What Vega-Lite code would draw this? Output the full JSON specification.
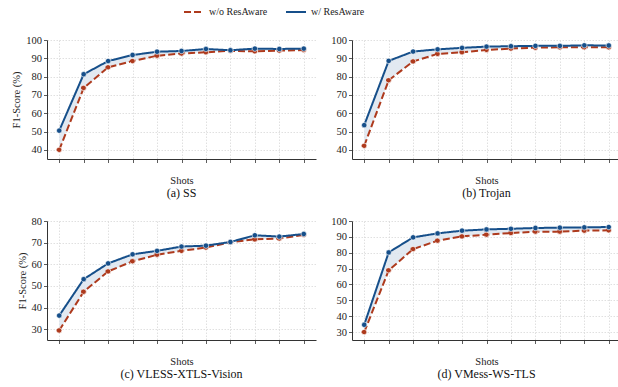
{
  "$schema": "https://vega.github.io/schema/vega-lite/v6.json",
  "padding": {"left": 11, "top": 1, "right": 2, "bottom": 2},
  "config": {
    "font": "Liberation Serif",
    "view": {"stroke": null},
    "axis": {
      "labelFont": "Liberation Serif", "titleFont": "Liberation Serif",
      "labelFontSize": 10.5, "titleFontSize": 10.5, "titleFontWeight": "normal",
      "labelColor": "#222", "titleColor": "#222",
      "domainColor": "#333", "domainWidth": 1,
      "tickColor": "#333", "tickSize": 3.5, "tickWidth": 0.8,
      "gridColor": "#d8d8d8", "gridDash": [1.5, 1.5], "gridWidth": 0.8,
      "labelPadding": 2, "labelOverlap": false, "labelFlush": false
    },
    "legend": {"labelFont": "Liberation Serif", "labelFontSize": 10, "labelColor": "#222"}
  },
  "data": {"values": [
    {"panel": "a", "shot": 1, "method": "w/o ResAware", "f1": 40.0},
    {"panel": "a", "shot": 2, "method": "w/o ResAware", "f1": 73.8},
    {"panel": "a", "shot": 3, "method": "w/o ResAware", "f1": 85.1},
    {"panel": "a", "shot": 4, "method": "w/o ResAware", "f1": 88.5},
    {"panel": "a", "shot": 5, "method": "w/o ResAware", "f1": 91.4},
    {"panel": "a", "shot": 6, "method": "w/o ResAware", "f1": 92.6},
    {"panel": "a", "shot": 7, "method": "w/o ResAware", "f1": 93.3},
    {"panel": "a", "shot": 8, "method": "w/o ResAware", "f1": 94.1},
    {"panel": "a", "shot": 9, "method": "w/o ResAware", "f1": 93.8},
    {"panel": "a", "shot": 10, "method": "w/o ResAware", "f1": 94.2},
    {"panel": "a", "shot": 11, "method": "w/o ResAware", "f1": 94.5},
    {"panel": "a", "shot": 1, "method": "w/ ResAware", "f1": 50.5},
    {"panel": "a", "shot": 2, "method": "w/ ResAware", "f1": 81.3},
    {"panel": "a", "shot": 3, "method": "w/ ResAware", "f1": 88.5},
    {"panel": "a", "shot": 4, "method": "w/ ResAware", "f1": 91.8},
    {"panel": "a", "shot": 5, "method": "w/ ResAware", "f1": 93.6},
    {"panel": "a", "shot": 6, "method": "w/ ResAware", "f1": 94.0},
    {"panel": "a", "shot": 7, "method": "w/ ResAware", "f1": 95.1},
    {"panel": "a", "shot": 8, "method": "w/ ResAware", "f1": 94.4},
    {"panel": "a", "shot": 9, "method": "w/ ResAware", "f1": 95.3},
    {"panel": "a", "shot": 10, "method": "w/ ResAware", "f1": 95.1},
    {"panel": "a", "shot": 11, "method": "w/ ResAware", "f1": 95.3},
    {"panel": "b", "shot": 1, "method": "w/o ResAware", "f1": 42.2},
    {"panel": "b", "shot": 2, "method": "w/o ResAware", "f1": 78.0},
    {"panel": "b", "shot": 3, "method": "w/o ResAware", "f1": 88.3},
    {"panel": "b", "shot": 4, "method": "w/o ResAware", "f1": 92.4},
    {"panel": "b", "shot": 5, "method": "w/o ResAware", "f1": 93.3},
    {"panel": "b", "shot": 6, "method": "w/o ResAware", "f1": 94.6},
    {"panel": "b", "shot": 7, "method": "w/o ResAware", "f1": 95.3},
    {"panel": "b", "shot": 8, "method": "w/o ResAware", "f1": 95.8},
    {"panel": "b", "shot": 9, "method": "w/o ResAware", "f1": 96.0},
    {"panel": "b", "shot": 10, "method": "w/o ResAware", "f1": 96.0},
    {"panel": "b", "shot": 11, "method": "w/o ResAware", "f1": 96.0},
    {"panel": "b", "shot": 1, "method": "w/ ResAware", "f1": 53.5},
    {"panel": "b", "shot": 2, "method": "w/ ResAware", "f1": 88.6},
    {"panel": "b", "shot": 3, "method": "w/ ResAware", "f1": 93.7},
    {"panel": "b", "shot": 4, "method": "w/ ResAware", "f1": 94.9},
    {"panel": "b", "shot": 5, "method": "w/ ResAware", "f1": 95.7},
    {"panel": "b", "shot": 6, "method": "w/ ResAware", "f1": 96.4},
    {"panel": "b", "shot": 7, "method": "w/ ResAware", "f1": 96.6},
    {"panel": "b", "shot": 8, "method": "w/ ResAware", "f1": 96.8},
    {"panel": "b", "shot": 9, "method": "w/ ResAware", "f1": 96.8},
    {"panel": "b", "shot": 10, "method": "w/ ResAware", "f1": 97.1},
    {"panel": "b", "shot": 11, "method": "w/ ResAware", "f1": 97.0},
    {"panel": "c", "shot": 1, "method": "w/o ResAware", "f1": 29.4},
    {"panel": "c", "shot": 2, "method": "w/o ResAware", "f1": 47.3},
    {"panel": "c", "shot": 3, "method": "w/o ResAware", "f1": 56.7},
    {"panel": "c", "shot": 4, "method": "w/o ResAware", "f1": 61.4},
    {"panel": "c", "shot": 5, "method": "w/o ResAware", "f1": 64.4},
    {"panel": "c", "shot": 6, "method": "w/o ResAware", "f1": 66.2},
    {"panel": "c", "shot": 7, "method": "w/o ResAware", "f1": 67.7},
    {"panel": "c", "shot": 8, "method": "w/o ResAware", "f1": 70.2},
    {"panel": "c", "shot": 9, "method": "w/o ResAware", "f1": 71.5},
    {"panel": "c", "shot": 10, "method": "w/o ResAware", "f1": 71.9},
    {"panel": "c", "shot": 11, "method": "w/o ResAware", "f1": 73.6},
    {"panel": "c", "shot": 1, "method": "w/ ResAware", "f1": 36.3},
    {"panel": "c", "shot": 2, "method": "w/ ResAware", "f1": 53.1},
    {"panel": "c", "shot": 3, "method": "w/ ResAware", "f1": 60.4},
    {"panel": "c", "shot": 4, "method": "w/ ResAware", "f1": 64.6},
    {"panel": "c", "shot": 5, "method": "w/ ResAware", "f1": 66.2},
    {"panel": "c", "shot": 6, "method": "w/ ResAware", "f1": 68.2},
    {"panel": "c", "shot": 7, "method": "w/ ResAware", "f1": 68.6},
    {"panel": "c", "shot": 8, "method": "w/ ResAware", "f1": 70.3},
    {"panel": "c", "shot": 9, "method": "w/ ResAware", "f1": 73.4},
    {"panel": "c", "shot": 10, "method": "w/ ResAware", "f1": 72.8},
    {"panel": "c", "shot": 11, "method": "w/ ResAware", "f1": 74.0},
    {"panel": "d", "shot": 1, "method": "w/o ResAware", "f1": 30.0},
    {"panel": "d", "shot": 2, "method": "w/o ResAware", "f1": 68.9},
    {"panel": "d", "shot": 3, "method": "w/o ResAware", "f1": 82.3},
    {"panel": "d", "shot": 4, "method": "w/o ResAware", "f1": 87.6},
    {"panel": "d", "shot": 5, "method": "w/o ResAware", "f1": 90.3},
    {"panel": "d", "shot": 6, "method": "w/o ResAware", "f1": 91.4},
    {"panel": "d", "shot": 7, "method": "w/o ResAware", "f1": 92.4},
    {"panel": "d", "shot": 8, "method": "w/o ResAware", "f1": 93.3},
    {"panel": "d", "shot": 9, "method": "w/o ResAware", "f1": 93.3},
    {"panel": "d", "shot": 10, "method": "w/o ResAware", "f1": 93.9},
    {"panel": "d", "shot": 11, "method": "w/o ResAware", "f1": 94.1},
    {"panel": "d", "shot": 1, "method": "w/ ResAware", "f1": 34.6},
    {"panel": "d", "shot": 2, "method": "w/ ResAware", "f1": 80.2},
    {"panel": "d", "shot": 3, "method": "w/ ResAware", "f1": 89.7},
    {"panel": "d", "shot": 4, "method": "w/ ResAware", "f1": 92.2},
    {"panel": "d", "shot": 5, "method": "w/ ResAware", "f1": 93.9},
    {"panel": "d", "shot": 6, "method": "w/ ResAware", "f1": 94.7},
    {"panel": "d", "shot": 7, "method": "w/ ResAware", "f1": 95.1},
    {"panel": "d", "shot": 8, "method": "w/ ResAware", "f1": 95.6},
    {"panel": "d", "shot": 9, "method": "w/ ResAware", "f1": 95.8},
    {"panel": "d", "shot": 10, "method": "w/ ResAware", "f1": 96.0},
    {"panel": "d", "shot": 11, "method": "w/ ResAware", "f1": 96.2}
  ]},
  "columns": 2,
  "spacing": {"row": 17, "column": 14},
  "resolve": {"scale": {"x": "independent", "y": "independent", "color": "shared", "strokeDash": "shared"}},
  "concat": [
    {
      "width": 269, "height": 119,
      "title": {"text": "(a) SS", "orient": "bottom", "fontSize": 12, "fontWeight": "normal", "font": "Liberation Serif", "color": "#111", "offset": 1.5},
      "transform": [{"filter": "datum.panel === 'a'"}],
      "encoding": {
        "x": {"field": "shot", "type": "quantitative", "scale": {"domain": [0.5, 11.5], "nice": false, "zero": false},
              "axis": {"title": "Shots", "labels": false, "values": [1,2,3,4,5,6,7,8,9,10,11], "titlePadding": 13}}
      },
      "layer": [
        {"transform": [{"pivot": "method", "value": "f1", "groupby": ["shot"]}],
         "mark": {"type": "area", "color": "#dde5ef", "opacity": 0.85},
         "encoding": {"y": {"field": "w/o ResAware", "type": "quantitative", "scale": {"domain": [35, 100], "nice": false, "zero": false},
                 "axis": {"title": "F1-Score (%)", "values": [40,50,60,70,80,90,100], "labelOverlap": false}}, "y2": {"field": "w/ ResAware"}}},
        {"mark": {"type": "line", "strokeWidth": 2, "point": {"filled": true, "size": 28, "stroke": "white", "strokeWidth": 0.7}},
         "encoding": {
           "y": {"field": "f1", "type": "quantitative", "scale": {"domain": [35, 100], "nice": false, "zero": false},
                 "axis": {"title": "F1-Score (%)", "values": [40,50,60,70,80,90,100], "labelOverlap": false}},
           "color": {"field": "method", "type": "nominal", "scale": {"domain": ["w/o ResAware", "w/ ResAware"], "range": ["#ae3a1d", "#164f8a"]},
                     "legend": {"title": null, "orient": "none", "legendX": 136, "legendY": -39, "direction": "horizontal", "symbolType": "stroke", "symbolSize": 400, "symbolStrokeWidth": 2, "columnPadding": 14}},
           "strokeDash": {"field": "method", "type": "nominal", "scale": {"domain": ["w/o ResAware", "w/ ResAware"], "range": [[7, 3], [1, 0]]}, "legend": null}
         }}
      ]
    },
    {
      "width": 269, "height": 119,
      "title": {"text": "(b) Trojan", "orient": "bottom", "fontSize": 12, "fontWeight": "normal", "font": "Liberation Serif", "color": "#111", "offset": 1.5},
      "transform": [{"filter": "datum.panel === 'b'"}],
      "encoding": {
        "x": {"field": "shot", "type": "quantitative", "scale": {"domain": [0.5, 11.5], "nice": false, "zero": false},
              "axis": {"title": "Shots", "labels": false, "values": [1,2,3,4,5,6,7,8,9,10,11], "titlePadding": 13}}
      },
      "layer": [
        {"transform": [{"pivot": "method", "value": "f1", "groupby": ["shot"]}],
         "mark": {"type": "area", "color": "#dde5ef", "opacity": 0.85},
         "encoding": {"y": {"field": "w/o ResAware", "type": "quantitative", "scale": {"domain": [35, 100], "nice": false, "zero": false},
                 "axis": {"title": null, "values": [40,50,60,70,80,90,100], "labelOverlap": false}}, "y2": {"field": "w/ ResAware"}}},
        {"mark": {"type": "line", "strokeWidth": 2, "point": {"filled": true, "size": 28, "stroke": "white", "strokeWidth": 0.7}},
         "encoding": {
           "y": {"field": "f1", "type": "quantitative", "scale": {"domain": [35, 100], "nice": false, "zero": false},
                 "axis": {"title": null, "values": [40,50,60,70,80,90,100], "labelOverlap": false}},
           "color": {"field": "method", "type": "nominal", "scale": {"domain": ["w/o ResAware", "w/ ResAware"], "range": ["#ae3a1d", "#164f8a"]}},
           "strokeDash": {"field": "method", "type": "nominal", "scale": {"domain": ["w/o ResAware", "w/ ResAware"], "range": [[7, 3], [1, 0]]}, "legend": null}
         }}
      ]
    },
    {
      "width": 269, "height": 119,
      "title": {"text": "(c) VLESS-XTLS-Vision", "orient": "bottom", "fontSize": 12, "fontWeight": "normal", "font": "Liberation Serif", "color": "#111", "offset": 1.5},
      "transform": [{"filter": "datum.panel === 'c'"}],
      "encoding": {
        "x": {"field": "shot", "type": "quantitative", "scale": {"domain": [0.5, 11.5], "nice": false, "zero": false},
              "axis": {"title": "Shots", "labels": false, "values": [1,2,3,4,5,6,7,8,9,10,11], "titlePadding": 13}}
      },
      "layer": [
        {"transform": [{"pivot": "method", "value": "f1", "groupby": ["shot"]}],
         "mark": {"type": "area", "color": "#dde5ef", "opacity": 0.85},
         "encoding": {"y": {"field": "w/o ResAware", "type": "quantitative", "scale": {"domain": [25, 80], "nice": false, "zero": false},
                 "axis": {"title": "F1-Score (%)", "values": [30,40,50,60,70,80], "labelOverlap": false}}, "y2": {"field": "w/ ResAware"}}},
        {"mark": {"type": "line", "strokeWidth": 2, "point": {"filled": true, "size": 28, "stroke": "white", "strokeWidth": 0.7}},
         "encoding": {
           "y": {"field": "f1", "type": "quantitative", "scale": {"domain": [25, 80], "nice": false, "zero": false},
                 "axis": {"title": "F1-Score (%)", "values": [30,40,50,60,70,80], "labelOverlap": false}},
           "color": {"field": "method", "type": "nominal", "scale": {"domain": ["w/o ResAware", "w/ ResAware"], "range": ["#ae3a1d", "#164f8a"]}},
           "strokeDash": {"field": "method", "type": "nominal", "scale": {"domain": ["w/o ResAware", "w/ ResAware"], "range": [[7, 3], [1, 0]]}, "legend": null}
         }}
      ]
    },
    {
      "width": 269, "height": 119,
      "title": {"text": "(d) VMess-WS-TLS", "orient": "bottom", "fontSize": 12, "fontWeight": "normal", "font": "Liberation Serif", "color": "#111", "offset": 1.5},
      "transform": [{"filter": "datum.panel === 'd'"}],
      "encoding": {
        "x": {"field": "shot", "type": "quantitative", "scale": {"domain": [0.5, 11.5], "nice": false, "zero": false},
              "axis": {"title": "Shots", "labels": false, "values": [1,2,3,4,5,6,7,8,9,10,11], "titlePadding": 13}}
      },
      "layer": [
        {"transform": [{"pivot": "method", "value": "f1", "groupby": ["shot"]}],
         "mark": {"type": "area", "color": "#dde5ef", "opacity": 0.85},
         "encoding": {"y": {"field": "w/o ResAware", "type": "quantitative", "scale": {"domain": [25, 100], "nice": false, "zero": false},
                 "axis": {"title": null, "values": [30,40,50,60,70,80,90,100], "labelOverlap": false}}, "y2": {"field": "w/ ResAware"}}},
        {"mark": {"type": "line", "strokeWidth": 2, "point": {"filled": true, "size": 28, "stroke": "white", "strokeWidth": 0.7}},
         "encoding": {
           "y": {"field": "f1", "type": "quantitative", "scale": {"domain": [25, 100], "nice": false, "zero": false},
                 "axis": {"title": null, "values": [30,40,50,60,70,80,90,100], "labelOverlap": false}},
           "color": {"field": "method", "type": "nominal", "scale": {"domain": ["w/o ResAware", "w/ ResAware"], "range": ["#ae3a1d", "#164f8a"]}},
           "strokeDash": {"field": "method", "type": "nominal", "scale": {"domain": ["w/o ResAware", "w/ ResAware"], "range": [[7, 3], [1, 0]]}, "legend": null}
         }}
      ]
    }
  ]
}
